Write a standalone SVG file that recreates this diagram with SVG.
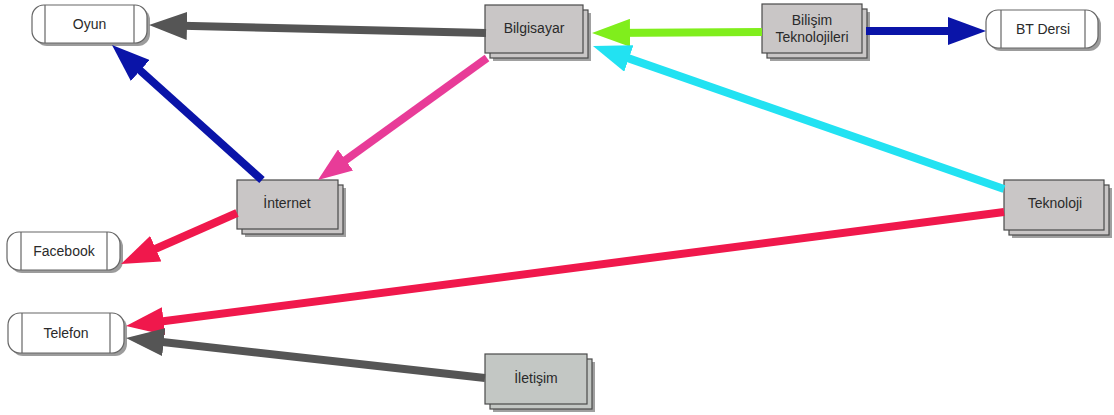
<svg xmlns="http://www.w3.org/2000/svg" width="1114" height="415" viewBox="0 0 1114 415">
  <defs>
    <style>
      .lbl { font-family: "Liberation Sans", Arial, sans-serif; font-size: 14px; fill: #2a2a2a; text-anchor: middle; dominant-baseline: central; }
      .pill { fill: #ffffff; stroke: #666; stroke-width: 1.2; }
      .pill-shadow { fill: #9c9c9c; }
      .divider { stroke: #666; stroke-width: 1.2; }
      .card { fill: #c9c6c6; stroke: #4a4a4a; stroke-width: 1.2; }
      .card-alt { fill: #c3c7c4; stroke: #4a4a4a; stroke-width: 1.2; }
      .card-shadow { fill: #a0a0a0; }
      .conn { fill: none; stroke-width: 8; stroke-linecap: butt; }
    </style>
    <marker id="ah-gray" markerUnits="userSpaceOnUse" markerWidth="38" markerHeight="28" refX="26" refY="14" orient="auto">
      <path d="M0,0 L38,14 L0,28 z" fill="#555555"/>
    </marker>
    <marker id="ah-green" markerUnits="userSpaceOnUse" markerWidth="38" markerHeight="28" refX="26" refY="14" orient="auto">
      <path d="M0,0 L38,14 L0,28 z" fill="#80ee1c"/>
    </marker>
    <marker id="ah-blue" markerUnits="userSpaceOnUse" markerWidth="38" markerHeight="28" refX="26" refY="14" orient="auto">
      <path d="M0,0 L38,14 L0,28 z" fill="#0a14a8"/>
    </marker>
    <marker id="ah-cyan" markerUnits="userSpaceOnUse" markerWidth="38" markerHeight="28" refX="26" refY="14" orient="auto">
      <path d="M0,0 L38,14 L0,28 z" fill="#22e2f2"/>
    </marker>
    <marker id="ah-pink" markerUnits="userSpaceOnUse" markerWidth="34" markerHeight="26" refX="22" refY="13" orient="auto">
      <path d="M0,0 L34,13 L0,26 z" fill="#e83c98"/>
    </marker>
    <marker id="ah-red" markerUnits="userSpaceOnUse" markerWidth="38" markerHeight="28" refX="26" refY="14" orient="auto">
      <path d="M0,0 L38,14 L0,28 z" fill="#f0184c"/>
    </marker>
  </defs>

  <rect width="1114" height="415" fill="#ffffff"/>

  <!-- Oyun -->
  <g id="node-oyun">
    <rect class="pill-shadow" x="35" y="8" width="115" height="38" rx="12" ry="12"/>
    <rect class="pill" x="32" y="5" width="115" height="38" rx="12" ry="12"/>
    <line class="divider" x1="45" y1="5" x2="45" y2="43"/>
    <line class="divider" x1="134" y1="5" x2="134" y2="43"/>
    <text class="lbl" x="89.5" y="24">Oyun</text>
  </g>

  <!-- BT Dersi -->
  <g id="node-bt-dersi">
    <rect class="pill-shadow" x="989" y="13" width="112" height="38" rx="12" ry="12"/>
    <rect class="pill" x="986" y="10" width="112" height="38" rx="12" ry="12"/>
    <line class="divider" x1="1001" y1="10" x2="1001" y2="48"/>
    <line class="divider" x1="1085" y1="10" x2="1085" y2="48"/>
    <text class="lbl" x="1043" y="29">BT Dersi</text>
  </g>

  <!-- Facebook -->
  <g id="node-facebook">
    <rect class="pill-shadow" x="10" y="235" width="113" height="38" rx="12" ry="12"/>
    <rect class="pill" x="7" y="232" width="113" height="38" rx="12" ry="12"/>
    <line class="divider" x1="21" y1="232" x2="21" y2="270"/>
    <line class="divider" x1="107" y1="232" x2="107" y2="270"/>
    <text class="lbl" x="64" y="251">Facebook</text>
  </g>

  <!-- Telefon -->
  <g id="node-telefon">
    <rect class="pill-shadow" x="11" y="316" width="116" height="40" rx="12" ry="12"/>
    <rect class="pill" x="8" y="313" width="116" height="40" rx="12" ry="12"/>
    <line class="divider" x1="22" y1="313" x2="22" y2="353"/>
    <line class="divider" x1="110" y1="313" x2="110" y2="353"/>
    <text class="lbl" x="66" y="333">Telefon</text>
  </g>

  <!-- Bilgisayar -->
  <g id="node-bilgisayar">
    <rect class="card-shadow" x="493" y="13" width="98" height="48"/>
    <rect class="card" x="490" y="10" width="98" height="48"/>
    <rect class="card" x="485" y="5" width="98" height="48"/>
    <text class="lbl" x="534" y="28">Bilgisayar</text>
  </g>

  <!-- Bilişim Teknolojileri -->
  <g id="node-bilisim">
    <rect class="card-shadow" x="770" y="12" width="100" height="49"/>
    <rect class="card" x="767" y="9" width="100" height="49"/>
    <rect class="card" x="762" y="4" width="100" height="49"/>
    <text class="lbl" x="812" y="20">Bilişim</text>
    <text class="lbl" x="812" y="37">Teknolojileri</text>
  </g>

  <!-- İnternet -->
  <g id="node-internet">
    <rect class="card-shadow" x="245" y="188" width="101" height="49"/>
    <rect class="card" x="242" y="185" width="101" height="49"/>
    <rect class="card" x="237" y="180" width="101" height="49"/>
    <text class="lbl" x="287" y="203">İnternet</text>
  </g>

  <!-- Teknoloji -->
  <g id="node-teknoloji">
    <rect class="card-shadow" x="1012" y="188" width="100" height="50"/>
    <rect class="card" x="1009" y="185" width="100" height="50"/>
    <rect class="card" x="1004" y="180" width="100" height="50"/>
    <text class="lbl" x="1055" y="203">Teknoloji</text>
  </g>

  <!-- İletişim -->
  <g id="node-iletisim">
    <rect class="card-shadow" x="493" y="362" width="102" height="50"/>
    <rect class="card-alt" x="490" y="359" width="102" height="50"/>
    <rect class="card-alt" x="485" y="354" width="102" height="50"/>
    <text class="lbl" x="536" y="378">İletişim</text>
  </g>

  <!-- connectors -->
  <g id="connectors">
    <path class="conn" stroke="#555555" marker-end="url(#ah-gray)" d="M486,33 L161,25.3"/>
    <path class="conn" stroke="#80ee1c" marker-end="url(#ah-green)" d="M762,32 L604,33"/>
    <path class="conn" stroke="#0a14a8" marker-end="url(#ah-blue)" d="M866,31 L974,31"/>
    <path class="conn" stroke="#22e2f2" marker-end="url(#ah-cyan)" d="M1004,189 L604.3,49.9"/>
    <path class="conn" stroke="#e83c98" stroke-width="5.5" marker-end="url(#ah-pink)" d="M487,58 L327.7,172.9"/>
    <path class="conn" stroke="#0a14a8" marker-end="url(#ah-blue)" d="M262,180 L120.9,53.1"/>
    <path class="conn" stroke="#f0184c" marker-end="url(#ah-red)" d="M237,213 L132,259.2"/>
    <path class="conn" stroke="#f0184c" marker-end="url(#ah-red)" d="M1004,212 L137.9,324.5"/>
    <path class="conn" stroke="#555555" marker-end="url(#ah-gray)" d="M485,378 L137.9,339.3"/>
  </g>
</svg>
